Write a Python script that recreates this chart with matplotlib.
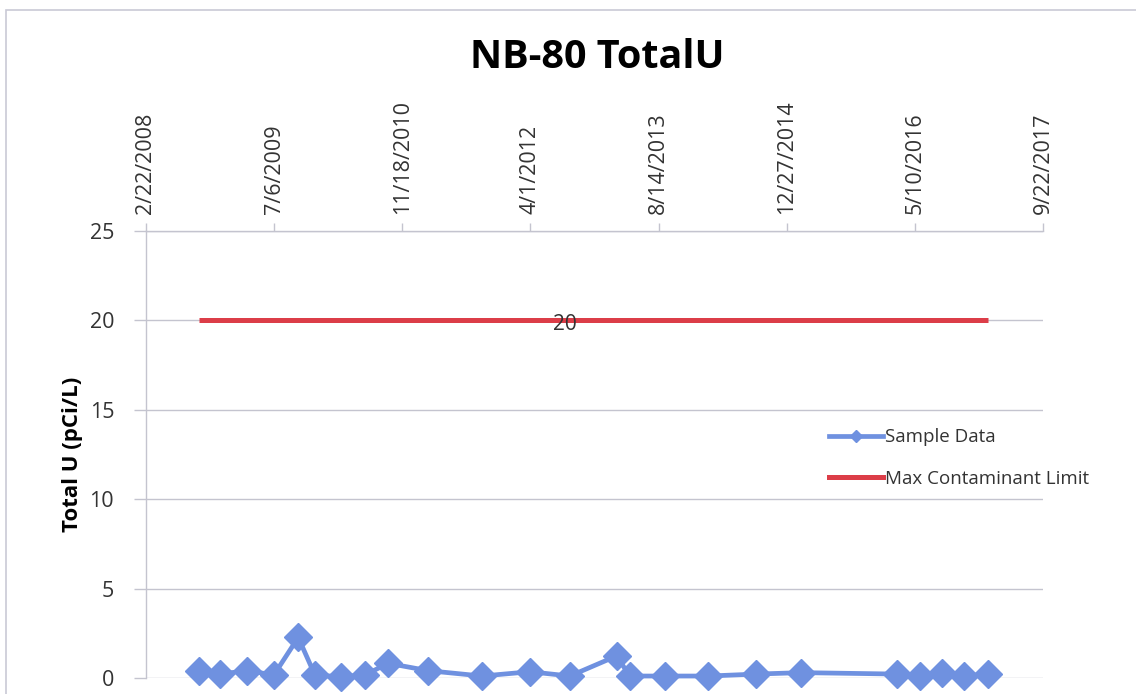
import matplotlib
matplotlib.use("Agg")
import matplotlib.pyplot as plt
from matplotlib.lines import Line2D
from matplotlib.patches import Rectangle
import pandas as pd

# ---- data ----
sample_dates = ["2008-09-16", "2008-12-07", "2009-03-23", "2009-07-05", "2009-10-08",
                "2009-12-12", "2010-03-22", "2010-06-25", "2010-09-24", "2011-02-27",
                "2011-09-25", "2012-03-30", "2012-09-02", "2013-03-03", "2013-04-24",
                "2013-09-10", "2014-02-23", "2014-08-31", "2015-02-22", "2016-03-03",
                "2016-06-01", "2016-08-24", "2016-11-16", "2017-02-19"]
sample_values = [0.41, 0.22, 0.41, 0.17, 2.27, 0.17, 0.07, 0.17, 0.82, 0.41,
                 0.11, 0.35, 0.11, 1.23, 0.11, 0.11, 0.11, 0.22, 0.30, 0.22,
                 0.11, 0.30, 0.11, 0.22]
mcl_value = 20
mcl_label_index = 12
x_tick_dates = ["2008-02-22", "2009-07-06", "2010-11-18", "2012-04-01",
                "2013-08-14", "2014-12-27", "2016-05-10", "2017-09-22"]
x_tick_labels = ["2/22/2008", "7/6/2009", "11/18/2010", "4/1/2012",
                 "8/14/2013", "12/27/2014", "5/10/2016", "9/22/2017"]
y_ticks = [0, 5, 10, 15, 20, 25]

title = "NB-80 TotalU"
y_label = "Total U (pCi/L)"
series_names = ["Sample Data", "Max Contaminant Limit"]

BLUE = "#6f91e0"
RED = "#dc3d48"
GRID = "#c4c4cf"
TEXT = "#333333"
FONT = ["Open Sans", "DejaVu Sans"]

plt.rcParams["font.family"] = FONT

W, H = 1136, 694
fig = plt.figure(figsize=(W / 100, H / 100), dpi=100)
fig.patch.set_facecolor("white")

# outer chart border
fig.patches.append(Rectangle((6 / W, -0.05), 1.2, 1 - 10 / H + 0.05,
                             transform=fig.transFigure, fill=False,
                             edgecolor="#c9c9d6", linewidth=1.2))

left, right, top, bottom = 146, 1043, 231, 678
ax = fig.add_axes([left / W, 1 - bottom / H, (right - left) / W, (bottom - top) / H])

d = pd.to_datetime(sample_dates)
xt = pd.to_datetime(x_tick_dates)

ax.plot(d, [mcl_value] * len(d), color=RED, linewidth=3.6, solid_capstyle="butt", zorder=3)
ax.plot(d, sample_values, color=BLUE, linewidth=3.4, marker="D", markersize=14,
        markeredgecolor=BLUE, markerfacecolor=BLUE, zorder=4, clip_on=False)

ax.annotate(str(mcl_value), (d[mcl_label_index], mcl_value), xytext=(-5, -4),
            textcoords="offset pixels", ha="center", va="center",
            fontsize=15, color=TEXT, zorder=5)

ax.set_xlim(xt[0], xt[-1])
ax.set_ylim(0, 25)
ax.set_yticks(y_ticks)
ax.set_yticklabels([str(v) for v in y_ticks])
ax.set_xticks(xt)
ax.set_xticklabels(x_tick_labels, rotation=90)
ax.xaxis.tick_top()
ax.tick_params(axis="x", which="both", direction="out", length=6, width=1,
               color=GRID, pad=6, labelsize=15.5, labelcolor=TEXT)
ax.tick_params(axis="y", which="both", direction="out", length=9, width=1,
               color=GRID, pad=14, labelsize=15.5, labelcolor=TEXT)

ax.grid(axis="y", color=GRID, linewidth=1)
ax.set_axisbelow(True)
for s in ["right", "bottom"]:
    ax.spines[s].set_visible(False)
for s in ["left", "top"]:
    ax.spines[s].set_color(GRID)
    ax.spines[s].set_linewidth(1)

ax.set_ylabel(y_label, fontsize=16, fontweight="bold", color="black")
ax.yaxis.set_label_coords(-0.07, 0.5)

fig.text(597 / W, 1 - 57 / H, title, fontsize=28.5, fontweight="bold",
         ha="center", va="center", color="black")

handles = [Line2D([], [], color=BLUE, linewidth=3.4, marker="D", markersize=6),
           Line2D([], [], color=RED, linewidth=3.6)]
fig.legend(handles, series_names, loc="center left",
           bbox_to_anchor=(812 / W, 1 - 458 / H), frameon=False,
           fontsize=13.5, handlelength=2.9, handletextpad=0.1,
           labelspacing=1.25, labelcolor=TEXT)

fig.savefig("out.png", dpi=100, facecolor="white")
